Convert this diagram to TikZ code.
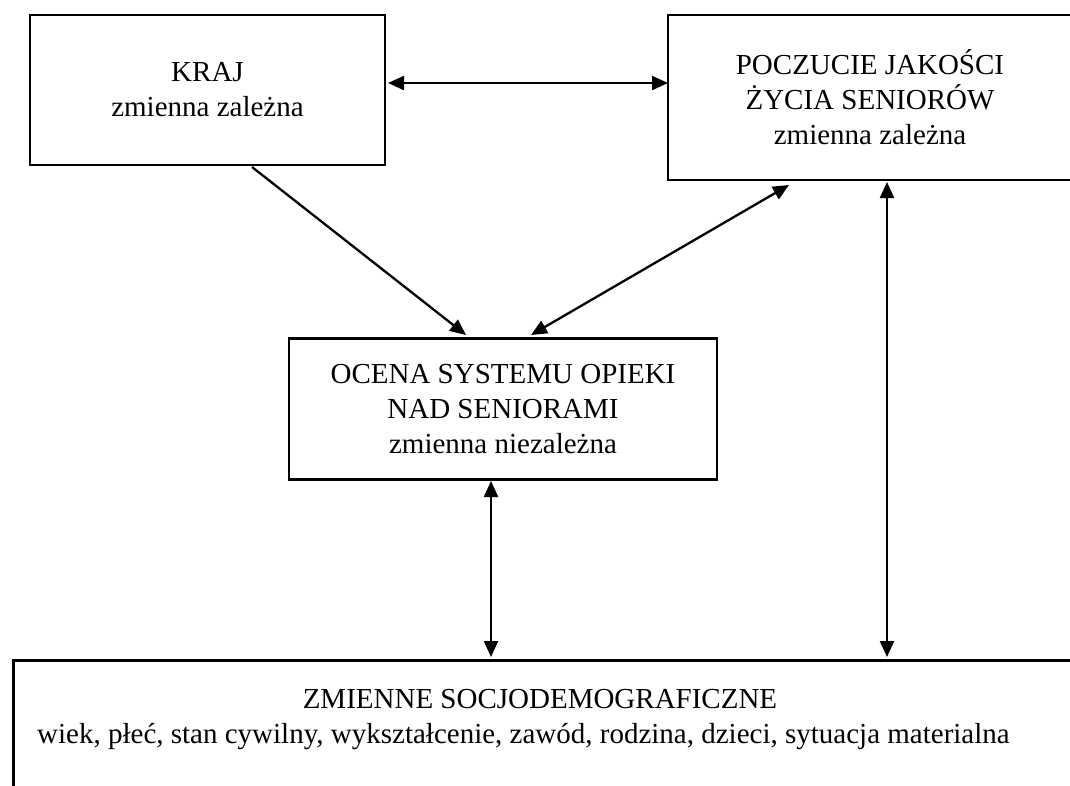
\documentclass[tikz,border=0pt]{standalone}
\usepackage{fontspec}
\setmainfont{Liberation Serif}
\usetikzlibrary{arrows.meta}
\begin{document}
\begin{tikzpicture}[x=1pt,y=-1pt,
  txt/.style={font=\fontsize{29}{35}\selectfont},
  box/.style={draw,line width=2.9pt,rectangle,inner sep=0pt,align=center,txt},
  both/.style={line width=2.3pt,{Triangle[length=16pt,width=14pt]}-{Triangle[length=16pt,width=14pt]}},
  oneway/.style={line width=2.3pt,-{Triangle[length=16pt,width=14pt]}}]
\clip (0,0) rectangle (1070,785);

% the four variable groups
\node[box,minimum width=355pt,minimum height=150pt] (kraj) at (207.5,90)
  {KRAJ\\zmienna zależna};
\node[box,minimum width=404pt,minimum height=165pt] (jakosc) at (870,97.5)
  {POCZUCIE JAKOŚCI\\ŻYCIA SENIORÓW\\zmienna zależna};
\node[box,minimum width=428pt,minimum height=141pt] (ocena) at (503,409)
  {OCENA SYSTEMU OPIEKI\\NAD SENIORAMI\\zmienna niezależna};
\node[draw,line width=2.9pt,rectangle,anchor=north west,minimum width=1100pt,
  minimum height=200pt] (socjo) at (12,659) {};
\node[txt,inner sep=0pt,anchor=base] (socjohead) at (540,708)
  {ZMIENNE SOCJODEMOGRAFICZNE};
\node[txt,inner sep=0pt,anchor=base west] (socjolist) at (37,743)
  {wiek, płeć, stan cywilny, wykształcenie, zawód, rodzina, dzieci, sytuacja materialna};

% anchor points for the connectors
\coordinate (k1) at (388,83);
\coordinate (j1) at (668,83);
\coordinate (k2) at (252,167);
\coordinate (o1) at (466,335);
\coordinate (j2) at (789,185);
\coordinate (o2) at (531,335);
\coordinate (o3) at (491,481);
\coordinate (s1) at (491,657);
\coordinate (j3) at (887,182);
\coordinate (s2) at (887,657);

\draw[both] (k1) -- (j1);
\draw[oneway] (k2) -- (o1);
\draw[both] (j2) -- (o2);
\draw[both] (o3) -- (s1);
\draw[both] (j3) -- (s2);
\end{tikzpicture}
\end{document}
